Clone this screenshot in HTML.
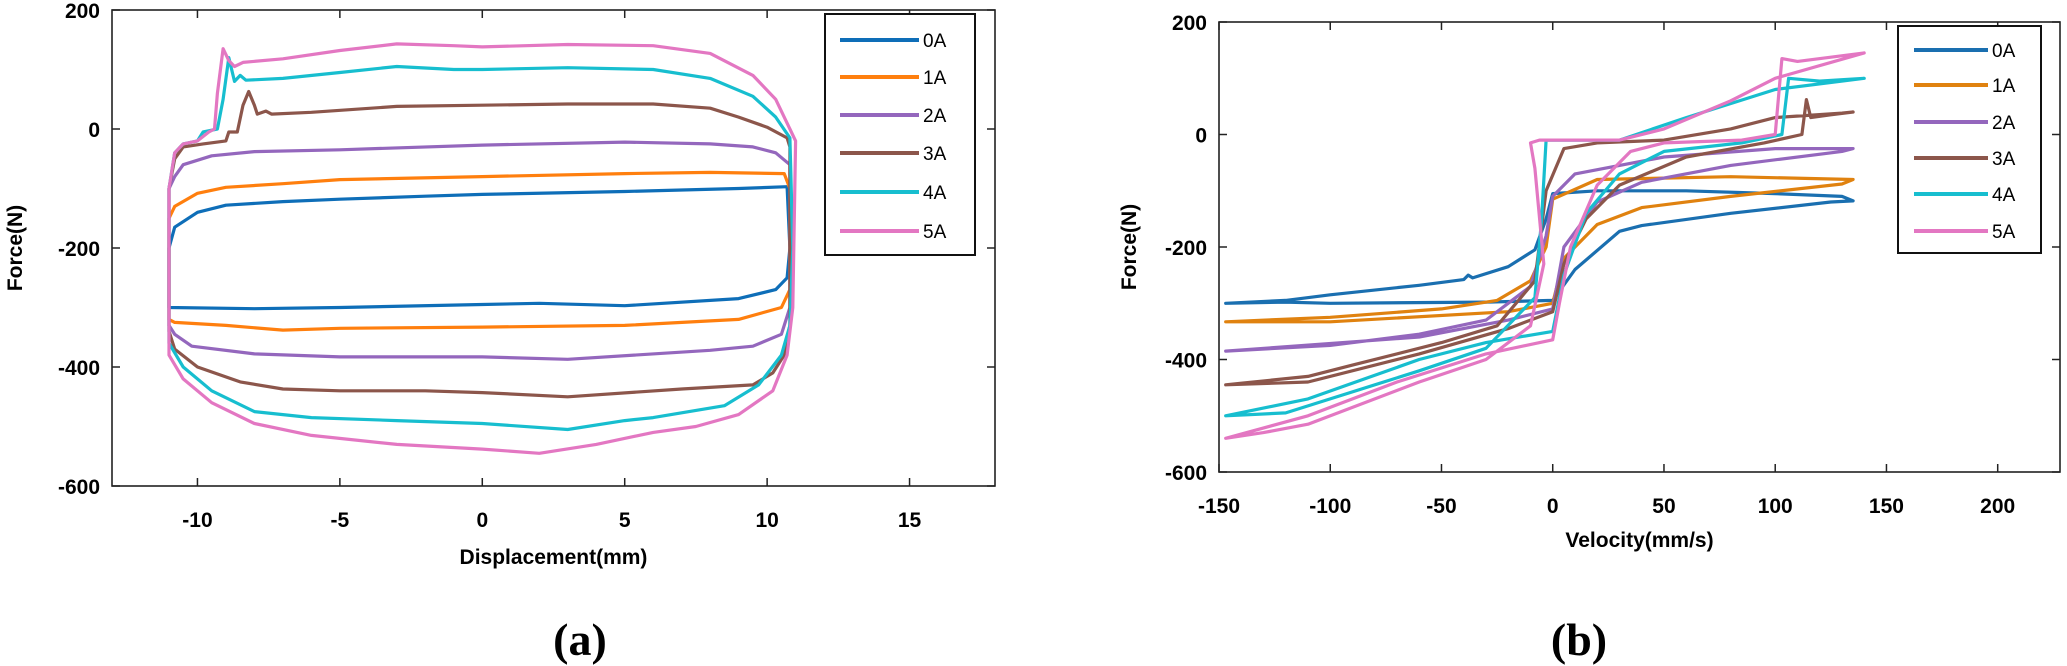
<!DOCTYPE html>
<html><head><meta charset="utf-8"><style>
html,body{margin:0;padding:0;background:#fff;}
svg{display:block;}
.t{font-family:"Liberation Sans",Arial,sans-serif;font-weight:bold;font-size:21px;fill:#000;}
.lg{font-family:"Liberation Sans",Arial,sans-serif;font-size:19px;fill:#000;}
.cap{font-family:"Liberation Serif","Times New Roman",serif;font-weight:bold;font-size:46px;fill:#000;}
</style></head><body>
<svg id="s" width="2067" height="666" viewBox="0 0 2067 666" xmlns="http://www.w3.org/2000/svg">
<rect width="2067" height="666" fill="#fff"/>
<g id="g"></g>
<text class="cap" x="580" y="655" text-anchor="middle">(a)</text>
<text class="cap" x="1579" y="655" text-anchor="middle">(b)</text>
</svg>
<script>
var NS="http://www.w3.org/2000/svg",G=document.getElementById('g');
function el(n,a,t){var e=document.createElementNS(NS,n);for(var k in a)e.setAttribute(k,a[k]);if(t!==undefined)e.textContent=t;G.appendChild(e);return e;}
function axes(o){
 var X=function(v){return o.x0+(v-o.xmin)*(o.x1-o.x0)/(o.xmax-o.xmin)};
 var Y=function(v){return o.y1-(v-o.ymin)*(o.y1-o.y0)/(o.ymax-o.ymin)};
 o.series.forEach(function(s){
  var p=s.pts.map(function(q){return X(q[0]).toFixed(1)+','+Y(q[1]).toFixed(1)}).join(' ');
  el('polyline',{points:p,fill:'none',stroke:s.c,'stroke-width':3.2,'stroke-linejoin':'round','stroke-linecap':'round'});
 });
 el('rect',{x:o.x0,y:o.y0,width:o.x1-o.x0,height:o.y1-o.y0,fill:'none',stroke:'#222','stroke-width':1.6});
 o.xt.forEach(function(v){var x=X(v);
  el('line',{x1:x,y1:o.y1,x2:x,y2:o.y1-8,stroke:'#222','stroke-width':1.5});
  el('line',{x1:x,y1:o.y0,x2:x,y2:o.y0+8,stroke:'#222','stroke-width':1.5});
  el('text',{class:'t',x:x,y:o.y1+41,'text-anchor':'middle'},String(v));});
 o.yt.forEach(function(v){var y=Y(v);
  el('line',{x1:o.x0,y1:y,x2:o.x0+8,y2:y,stroke:'#222','stroke-width':1.5});
  el('line',{x1:o.x1,y1:y,x2:o.x1-8,y2:y,stroke:'#222','stroke-width':1.5});
  el('text',{class:'t',x:o.x0-12,y:y+8,'text-anchor':'end'},String(v));});
 el('text',{class:'t',x:(o.x0+o.x1)/2,y:o.xly,'text-anchor':'middle'},o.xl);
 el('text',{class:'t',x:0,y:0,'text-anchor':'middle',transform:'translate('+(o.ylx)+','+((o.y0+o.y1)/2)+') rotate(-90)'},'Force(N)');
 var L=o.leg;
 el('rect',{x:L.x0,y:L.y0,width:L.x1-L.x0,height:L.y1-L.y0,fill:'#fff',stroke:'#111','stroke-width':2});
 o.series.forEach(function(s,i){var y=L.ys[i];
  el('line',{x1:L.lx0,y1:y,x2:L.lx1,y2:y,stroke:s.c,'stroke-width':4});
  el('text',{class:'lg',x:L.lx1+4,y:y+7},s.n);});
}
var cl=['#0e6eb8','#ff7f0e','#9467bd','#8c564b','#17becf','#e377c2'];
var cr=['#1a6fb0','#e0820f','#9467bd','#8c564b','#17becf','#e377c2'];
var A=[
[[-11,-300],[-11,-200],[-10.8,-165],[-10,-140],[-9,-128],[-7,-122],[-5,-118],[-2,-113],[0,-110],[5,-105],[9,-100],[10.7,-97],[10.8,-200],[10.7,-250],[10.3,-270],[9,-285],[5,-297],[2,-293],[0,-295],[-5,-300],[-8,-302],[-11,-300]],
[[-11,-320],[-11,-150],[-10.8,-130],[-10,-108],[-9,-98],[-7,-92],[-5,-85],[0,-80],[5,-75],[8,-73],[10.6,-75],[10.8,-100],[10.8,-270],[10.5,-300],[9,-320],[5,-330],[0,-333],[-5,-335],[-7,-338],[-9,-330],[-10.8,-325],[-11,-320]],
[[-11,-330],[-11,-100],[-10.8,-80],[-10.5,-60],[-9.5,-45],[-8,-38],[-5,-35],[0,-27],[5,-22],[8,-25],[9.5,-30],[10.3,-40],[10.8,-60],[10.8,-300],[10.5,-345],[9.5,-365],[8,-372],[3,-387],[0,-383],[-5,-383],[-8,-378],[-10.2,-365],[-10.8,-345],[-11,-330]],
[[-11,-340],[-11,-100],[-10.8,-50],[-10.5,-30],[-9.8,-25],[-9,-20],[-8.9,-5],[-8.6,-5],[-8.4,40],[-8.2,63],[-8,40],[-7.9,25],[-7.6,30],[-7.4,25],[-6,28],[-3,38],[0,40],[3,42],[6,42],[8,35],[9,20],[10,3],[10.7,-15],[10.8,-30],[10.8,-330],[10.6,-380],[10.2,-410],[9.5,-430],[7,-437],[3,-450],[0,-443],[-2,-440],[-5,-440],[-7,-437],[-8.5,-425],[-10,-400],[-10.8,-370],[-11,-340]],
[[-11,-350],[-11,-100],[-10.8,-40],[-10.5,-25],[-10,-20],[-9.8,-5],[-9.5,-2],[-9.3,0],[-9.1,50],[-8.9,120],[-8.7,80],[-8.5,90],[-8.3,82],[-7,85],[-5,95],[-3,105],[-1,100],[0,100],[3,103],[6,100],[8,85],[9.5,55],[10.3,20],[10.8,-15],[10.9,-200],[10.8,-330],[10.5,-380],[9.7,-430],[8.5,-465],[6,-485],[5,-490],[3,-505],[0,-495],[-3,-490],[-6,-485],[-8,-475],[-9.5,-440],[-10.5,-400],[-11,-360],[-11,-350]],
[[-11,-360],[-11,-100],[-10.8,-40],[-10.5,-25],[-10,-20],[-9.6,-5],[-9.4,0],[-9.3,60],[-9.1,135],[-8.9,115],[-8.7,105],[-8.4,112],[-7,118],[-5,132],[-3,143],[-1,140],[0,138],[3,142],[6,140],[8,127],[9.5,90],[10.3,50],[10.8,0],[11,-20],[10.9,-300],[10.7,-380],[10.2,-440],[9,-480],[7.5,-500],[6,-510],[4,-530],[2,-545],[0,-538],[-3,-530],[-6,-515],[-8,-495],[-9.5,-460],[-10.5,-420],[-11,-380],[-11,-360]]
];
var B=[
[[-147,-300],[-120,-295],[-100,-285],[-60,-268],[-40,-258],[-38,-250],[-36,-255],[-20,-235],[-8,-205],[-3,-150],[0,-105],[20,-100],[60,-100],[100,-105],[130,-110],[135,-118],[125,-120],[80,-140],[40,-162],[30,-172],[10,-240],[0,-295],[-30,-298],[-100,-300],[-120,-298],[-147,-300]],
[[-147,-333],[-100,-325],[-50,-310],[-25,-295],[-10,-260],[-3,-200],[0,-115],[20,-80],[80,-75],[135,-80],[130,-88],[80,-110],[40,-130],[20,-160],[5,-220],[0,-300],[-20,-315],[-100,-333],[-147,-333]],
[[-147,-385],[-100,-375],[-60,-355],[-30,-330],[-10,-270],[-3,-180],[0,-110],[10,-70],[50,-40],[100,-25],[135,-25],[130,-30],[80,-55],[40,-85],[20,-120],[5,-200],[0,-310],[-20,-330],[-60,-360],[-147,-385]],
[[-147,-445],[-110,-430],[-90,-410],[-50,-370],[-25,-340],[-8,-260],[-3,-100],[5,-25],[20,-15],[50,-10],[80,10],[100,30],[130,38],[135,40],[125,35],[116,30],[114,62],[112,0],[95,-15],[60,-40],[30,-90],[15,-150],[5,-230],[0,-315],[-20,-345],[-60,-390],[-110,-440],[-147,-445]],
[[-147,-500],[-120,-495],[-100,-470],[-60,-420],[-30,-380],[-8,-290],[-5,-150],[-3,-10],[10,-10],[30,-10],[60,30],[100,80],[140,100],[120,95],[106,100],[103,0],[85,-15],[50,-30],[30,-70],[15,-140],[5,-250],[0,-350],[-30,-370],[-60,-400],[-110,-470],[-147,-500]],
[[-147,-540],[-130,-530],[-110,-515],[-60,-440],[-30,-400],[-10,-340],[-4,-230],[-8,-60],[-10,-15],[-6,-10],[30,-10],[50,10],[80,60],[100,100],[140,145],[110,130],[103,135],[100,0],[85,-10],[50,-15],[35,-30],[20,-90],[8,-200],[3,-300],[0,-365],[-30,-390],[-70,-440],[-110,-500],[-147,-540]]
];
var names=['0A','1A','2A','3A','4A','5A'];
axes({x0:112,x1:995,y0:10,y1:486,xmin:-13,xmax:18,ymin:-600,ymax:200,xt:[-10,-5,0,5,10,15],yt:[200,0,-200,-400,-600],
 xl:'Displacement(mm)',xly:564,ylx:22,
 series:A.map(function(p,i){return{pts:p,c:cl[i],n:names[i]}}),
 leg:{x0:825,x1:975,y0:14,y1:255,lx0:840,lx1:919,ys:[40,77,115,153,192,231]}});
axes({x0:1219,x1:2060,y0:22,y1:472,xmin:-150,xmax:228,ymin:-600,ymax:200,xt:[-150,-100,-50,0,50,100,150,200],yt:[200,0,-200,-400,-600],
 xl:'Velocity(mm/s)',xly:547,ylx:1136,
 series:B.map(function(p,i){return{pts:p,c:cr[i],n:names[i]}}),
 leg:{x0:1898,x1:2041,y0:26,y1:253,lx0:1914,lx1:1988,ys:[50,85,122,158,194,231]}});
</script>
</body></html>
